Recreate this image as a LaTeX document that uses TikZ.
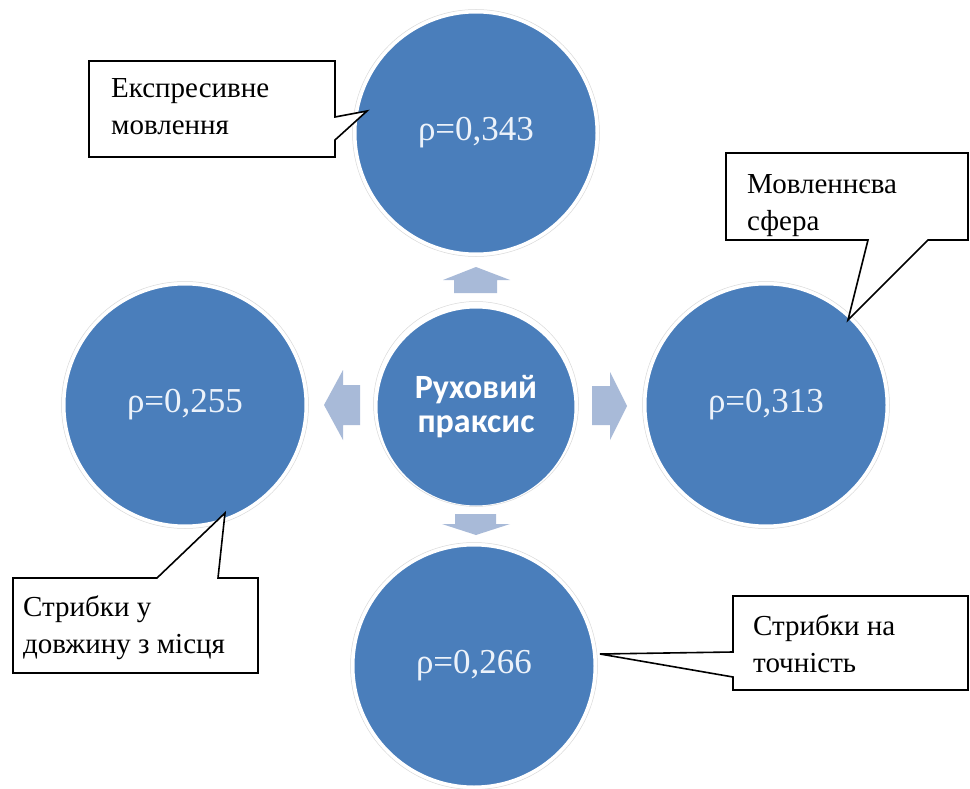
\documentclass[tikz,border=0pt]{standalone}
\usepackage{fontspec}
\setmainfont{Liberation Serif}
\newfontfamily\hubfont{Carlito}
\definecolor{circblue}{RGB}{74,126,187}
\definecolor{arrowblue}{RGB}{168,186,216}
\definecolor{ctext}{RGB}{236,242,250}
\begin{document}
\begin{tikzpicture}[x=1pt,y=-1pt,
  bubble/.style={circle, fill=circblue, draw=white, line width=3pt, inner sep=0pt,
    minimum size=242pt, text=ctext, font=\fontsize{35}{40}\selectfont},
  hub/.style={bubble, minimum size=200pt, text=white, align=center,
    font=\hubfont\bfseries\fontsize{34}{34}\selectfont},
  ring/.style={draw=gray!30, line width=0.5pt},
  blockarrow/.style={fill=arrowblue},
  callout/.style={draw=black, fill=white, line width=1.6pt, line join=miter},
  calltext/.style={anchor=base west, align=left, inner sep=0pt,
    font=\fontsize{29}{37}\selectfont}]
\useasboundingbox (0,0) rectangle (970,789);
\clip (0,0) rectangle (970,789);
\fill[white] (0,0) rectangle (970,789);

% circles
\node[bubble] (ctop) at (476,133) {ρ=0,343};
\node[bubble] (cleft) at (185,405) {ρ=0,255};
\node[bubble] (cright) at (766,405) {ρ=0,313};
\node[bubble] (cbot) at (474,666) {ρ=0,266};
\node[hub] (hub) at (476,407) {Руховий\\праксис};
\foreach \n/\r in {ctop/123.5, cleft/123.5, cright/123.5, cbot/123.5}
  \draw[ring] (\n.center) circle[radius=\r pt];
\draw[ring] (476,404) circle[radius=102.5pt];

% block arrows
\fill[blockarrow] (454,293) -- (454,280) -- (443,280) -- (476,267) -- (510,280) -- (497,280) -- (497,293) -- cycle;
\fill[blockarrow] (455,514) -- (455,524) -- (442,524) -- (476,535) -- (510,524) -- (496,524) -- (496,514) -- cycle;
\fill[blockarrow] (360,385) -- (343,385) -- (343,370) -- (324,405) -- (343,440) -- (343,425) -- (360,425) -- cycle;
\fill[blockarrow] (592,386) -- (610,386) -- (610,372) -- (627,406) -- (610,440) -- (610,425) -- (592,425) -- cycle;

% callouts (node base = baseline of last line)
\draw[callout] (89,61) -- (335,61) -- (335,117) -- (367,111) -- (335,140) -- (335,157) -- (89,157) -- cycle;
\node[calltext] (t1) at (111,135) {Експресивне\\мовлення};

\draw[callout] (726,153) -- (968,153) -- (968,240) -- (928,240) -- (848,320) -- (868,240) -- (726,240) -- cycle;
\node[calltext] (t2) at (747,230) {Мовленнєва\\сфера};

\draw[callout] (13,578) -- (157,578) -- (225,513) -- (218,578) -- (258,578) -- (258,673) -- (13,673) -- cycle;
\node[calltext] (t3) at (23,653) {Стрибки у\\довжину з місця};

\draw[callout] (733,596) -- (968,596) -- (968,690) -- (733,690) -- (733,677) -- (600,654) -- (733,652) -- cycle;
\node[calltext] (t4) at (753,672) {Стрибки на\\точність};
\end{tikzpicture}
\end{document}
